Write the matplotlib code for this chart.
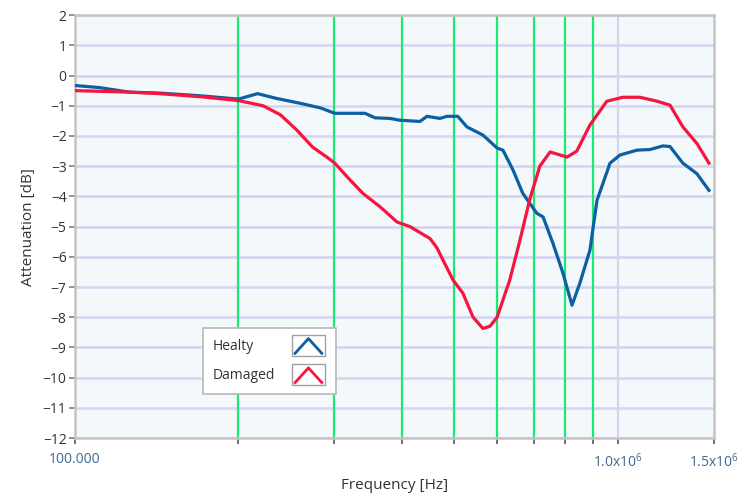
import matplotlib
matplotlib.use("Agg")
import matplotlib.pyplot as plt
from matplotlib.legend_handler import HandlerBase
from matplotlib.patches import Rectangle
from matplotlib.lines import Line2D
from matplotlib.ticker import NullLocator

plt.rcParams['font.family'] = ['Open Sans', 'DejaVu Sans']
plt.rcParams['mathtext.default'] = 'regular'

# Healty curve (Hz, dB)
healty_f = [100000, 111000, 126000, 143000, 170000, 200000, 217000, 234000, 260000,
            283000, 301000, 342000, 357000, 380000, 397000, 414000, 432000, 445000,
            470000, 484000, 507000, 527000, 564000, 599000, 614000, 641000, 668000,
            709000, 728000, 759000, 792000, 823000, 851000, 888000, 915000, 967000,
            1009000, 1084000, 1145000, 1210000, 1247000, 1317000, 1398000, 1471000]
healty_db = [-0.33, -0.40, -0.55, -0.58, -0.67, -0.78, -0.60, -0.75, -0.92,
             -1.07, -1.25, -1.25, -1.40, -1.42, -1.48, -1.50, -1.52, -1.35,
             -1.42, -1.35, -1.35, -1.70, -1.97, -2.40, -2.47, -3.13, -3.90,
             -4.56, -4.68, -5.55, -6.54, -7.60, -6.87, -5.78, -4.13, -2.90,
             -2.63, -2.47, -2.45, -2.33, -2.35, -2.90, -3.25, -3.80]

# Damaged curve (Hz, dB)
damaged_f = [100000, 126000, 143000, 170000, 200000, 222000, 239000, 256000, 274000,
             291000, 301000, 317000, 339000, 365000, 392000, 414000, 451000, 464000,
             476000, 497000, 518000, 541000, 564000, 581000, 599000, 632000, 660000,
             688000, 718000, 750000, 806000, 840000, 888000, 954000, 1021000, 1098000,
             1180000, 1247000, 1317000, 1398000, 1471000]
damaged_db = [-0.50, -0.55, -0.60, -0.70, -0.83, -1.00, -1.30, -1.80, -2.37,
              -2.70, -2.90, -3.35, -3.90, -4.35, -4.85, -5.00, -5.40, -5.70,
              -6.10, -6.77, -7.20, -8.00, -8.37, -8.30, -8.00, -6.77, -5.45,
              -4.10, -3.00, -2.53, -2.70, -2.50, -1.64, -0.85, -0.72, -0.72,
              -0.85, -0.98, -1.70, -2.25, -2.90]

cursor_f = [200000, 300000, 400000, 500000, 600000, 700000, 800000, 900000]
x_ticks = [100000] + cursor_f + [1000000, 1500000]
x_labels = ['100.000'] + [''] * len(cursor_f) + ['1.0x10$^6$', '1.5x10$^6$']
y_ticks = list(range(-12, 3))

BLUE = '#0b5fa3'
RED = '#f5153f'


class CaretHandler(HandlerBase):
    def create_artists(self, legend, orig_handle, xdescent, ydescent, width, height,
                       fontsize, trans):
        x0, y0 = -xdescent, -ydescent
        box = Rectangle((x0, y0 - 0.3 * height), width, height * 1.6, facecolor='white',
                        edgecolor='#a0a0a0', linewidth=1.0, transform=trans)
        line = Line2D([x0 + 0.1 * width, x0 + 0.5 * width, x0 + 0.9 * width],
                      [y0 - 0.1 * height, y0 + 1.0 * height, y0 - 0.1 * height],
                      color=orig_handle.get_color(), linewidth=2.0, transform=trans)
        return [box, line]


fig = plt.figure(figsize=(7.46, 5.03), dpi=100)
ax = fig.add_axes([0.1005, 0.129, 0.856, 0.841])
ax.set_facecolor('#f3f8fa')

ax.set_xscale('log')
ax.set_xlim(100000, 1500000)
ax.set_ylim(-12, 2)

ax.set_yticks(y_ticks)
ax.set_yticklabels([str(v).replace('-', '\u2212') for v in y_ticks])
ax.yaxis.grid(True, color='#d4d4f2', linewidth=1.8)
ax.set_axisbelow(True)

ax.set_xticks(x_ticks)
ax.set_xticklabels(x_labels)
ax.xaxis.set_minor_locator(NullLocator())

for f in cursor_f:
    ax.axvline(f, color='#1ee874', linewidth=1.6, zorder=1.5)
ax.axvline(1000000, color='#d4d4f2', linewidth=1.6, zorder=1.4)

h1, = ax.plot(healty_f, healty_db, color=BLUE, linewidth=2.3, zorder=3)
h2, = ax.plot(damaged_f, damaged_db, color=RED, linewidth=2.3, zorder=3)

for s in ax.spines.values():
    s.set_color('#c4c4c4')
    s.set_linewidth(1.8)

ax.tick_params(axis='y', direction='out', length=4, width=1.2, color='#808080',
               labelsize=10, labelcolor='#333333', pad=2)
ax.tick_params(axis='x', direction='out', length=4, width=1.2, color='#555555',
               labelsize=10, labelcolor='#3c6a96', pad=6)

ax.set_xlabel('Frequency [Hz]', fontsize=11, color='#333333', labelpad=5)
ax.set_ylabel('Attenuation [dB]', fontsize=11, color='#333333', labelpad=5)

leg = ax.legend([h1, h2], ['Healty', 'Damaged'],
                handler_map={Line2D: CaretHandler()},
                loc='lower left', bbox_to_anchor=(0.2, 0.105), borderaxespad=0,
                markerfirst=False, fancybox=False, framealpha=1,
                edgecolor='#b8b8b8', fontsize=10, handlelength=2.4,
                handleheight=1.1, handletextpad=1.0, labelspacing=1.0,
                borderpad=0.75)
leg.get_frame().set_linewidth(1.2)
for t in leg.get_texts():
    t.set_color('#333333')
# left-align labels and push the icons to the right edge
for col in leg._legend_handle_box.get_children():
    for item in col.get_children():
        item.width = 112
        item.mode = 'expand'

fig.savefig('out.png', dpi=100)
